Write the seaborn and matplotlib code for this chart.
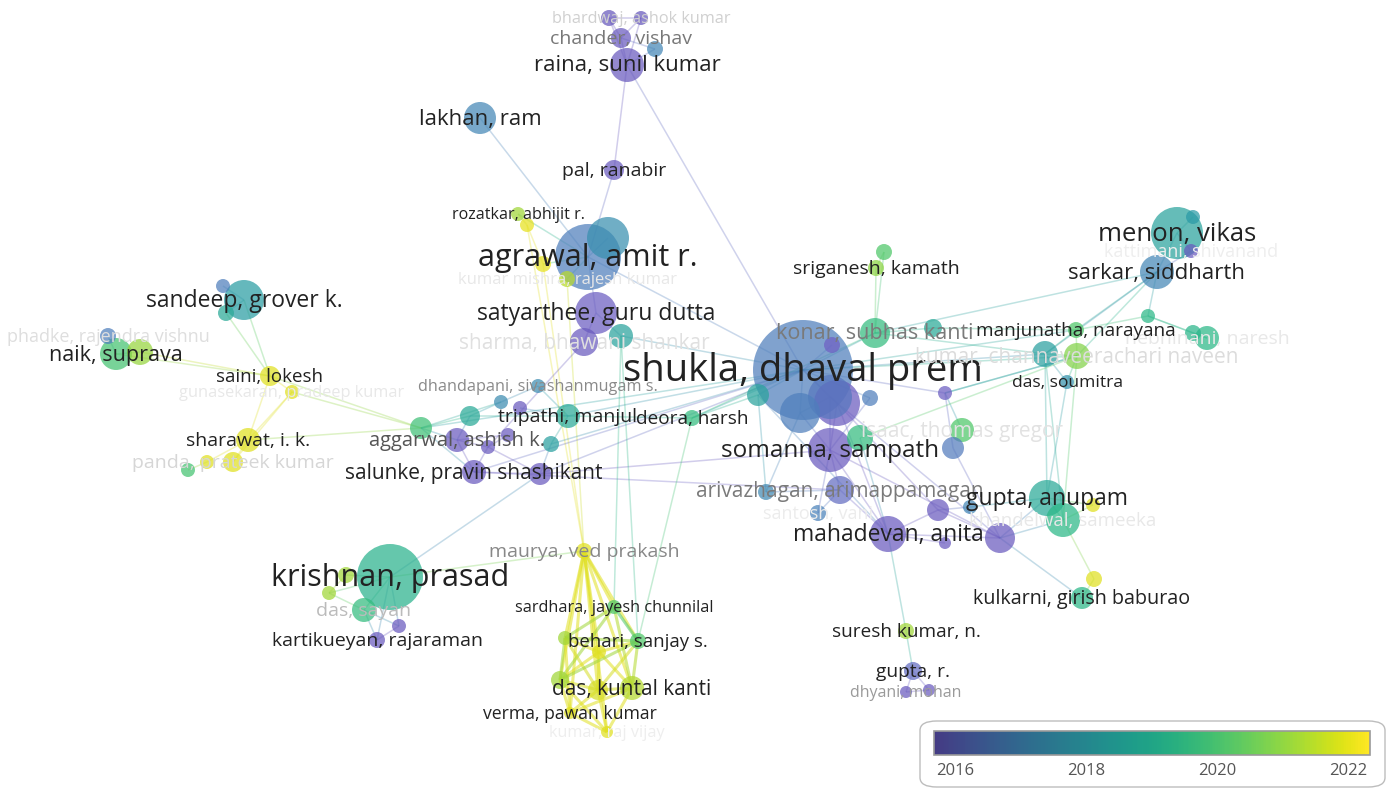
import numpy as np
import pandas as pd
import matplotlib
matplotlib.use("Agg")
import matplotlib.pyplot as plt
import seaborn as sns
from matplotlib.collections import LineCollection
from matplotlib.colors import LinearSegmentedColormap, ListedColormap
from matplotlib.patches import FancyBboxPatch

# ---- node data (map coordinates, weight radius, avg. publication year) ----
names = [
    "bhardwaj, ashok kumar", "", "chander, vishav", "", "raina, sunil kumar",
    "lakhan, ram", "pal, ranabir", "rozatkar, abhijit r.", "", "agrawal, amit r.",
    "", "", "kumar mishra, rajesh kumar", "satyarthee, guru dutta", "",
    "sharma, bhawani shankar", "sandeep, grover k.", "", "", "phadke, rajendra vishnu",
    "naik, suprava", "", "saini, lokesh", "gunasekaran, pradeep kumar", "sharawat, i. k.",
    "", "panda, prateek kumar", "", "", "",
    "", "dhandapani, sivashanmugam s.", "", "tripathi, manjul", "aggarwal, ashish k.",
    "", "", "", "salunke, pravin shashikant", "",
    "deora, harsh", "shukla, dhaval prem", "", "", "",
    "", "konar, subhas kanti", "", "", "",
    "", "somanna, sampath", "", "isaac, thomas gregor", "",
    "", "sriganesh, kamath", "", "arivazhagan, arimappamagan", "santosh, vani",
    "mahadevan, anita", "", "", "", "",
    "gupta, anupam", "khandelwal, sameeka", "", "", "kulkarni, girish baburao",
    "suresh kumar, n.", "gupta, r.", "dhyani, mohan", "", "menon, vikas",
    "", "kattimani, shivanand", "sarkar, siddharth", "", "",
    "nebhinani, naresh", "manjunatha, narayana", "", "kumar, channaveerachari naveen", "das, soumitra",
    "krishnan, prasad", "", "", "das, sayan", "",
    "kartikueyan, rajaraman", "maurya, ved prakash", "sardhara, jayesh chunnilal", "", "",
    "behari, sanjay s.", "", "", "das, kuntal kanti", "verma, pawan kumar",
    "kumar, raj vijay",
]
node_x = [
    641, 609, 621, 655, 627, 480, 614, 518, 527, 588,
    608, 543, 567, 596, 621, 584, 244, 223, 226, 108,
    116, 140, 270, 292, 248, 207, 233, 188, 421, 470,
    501, 538, 520, 568, 457, 508, 488, 551, 474, 540,
    692, 803, 800, 830, 837, 832, 875, 933, 758, 870,
    945, 830, 860, 962, 953, 884, 876, 766, 840, 818,
    888, 945, 938, 1000, 970, 1047, 1063, 1093, 1094, 1082,
    906, 913, 906, 929, 1177, 1193, 1191, 1157, 1148, 1193,
    1207, 1076, 1045, 1077, 1067, 390, 346, 329, 364, 399,
    377, 584, 614, 565, 599, 638, 560, 598, 632, 570,
    607,
]
node_y = [
    18, 18, 38, 49, 65, 118, 170, 214, 225, 257,
    238, 264, 279, 313, 336, 342, 300, 286, 313, 336,
    354, 352, 376, 392, 440, 462, 462, 470, 428, 416,
    402, 386, 408, 416, 440, 435, 447, 444, 472, 474,
    418, 370, 413, 397, 403, 345, 333, 328, 395, 398,
    393, 450, 438, 430, 448, 252, 268, 492, 490, 513,
    534, 543, 510, 538, 507, 498, 520, 505, 579, 598,
    631, 671, 692, 690, 233, 217, 251, 272, 316, 333,
    338, 330, 354, 356, 382, 577, 575, 593, 610, 626,
    640, 551, 607, 638, 652, 641, 680, 690, 688, 713,
    732,
]
node_r = [
    7, 8, 10, 8, 17, 16, 10, 7, 7, 33,
    21, 8, 8, 21, 12, 14, 20, 7, 8, 8,
    16, 13, 10, 7, 12, 7, 10, 7, 11, 10,
    7, 7, 7, 12, 12, 7, 7, 8, 12, 11,
    8, 50, 20, 22, 23, 8, 15, 9, 11, 8,
    7, 22, 13, 12, 11, 8, 8, 8, 14, 8,
    18, 6, 11, 15, 7, 18, 17, 7, 8, 11,
    8, 9, 6, 6, 26, 7, 7, 17, 7, 8,
    12, 8, 13, 13, 7, 33, 8, 7, 12, 7,
    8, 8, 7, 7, 7, 8, 9, 10, 12, 6,
    6,
]
node_year = [
    2016.2, 2016.2, 2016.3, 2017.6, 2016.3, 2017.6, 2016.3, 2021.0, 2022.1, 2017.3,
    2017.9, 2022.1, 2021.3, 2016.4, 2018.6, 2016.3, 2018.4, 2017.3, 2018.8, 2017.3,
    2019.8, 2020.9, 2022.0, 2022.0, 2022.0, 2022.0, 2022.0, 2019.8, 2019.7, 2018.8,
    2017.8, 2017.8, 2016.3, 2018.8, 2016.3, 2016.3, 2016.3, 2018.5, 2016.3, 2016.3,
    2019.5, 2017.3, 2017.3, 2017.1, 2016.3, 2016.5, 2019.5, 2018.8, 2018.6, 2017.3,
    2016.4, 2016.3, 2019.5, 2020.0, 2017.2, 2020.0, 2020.8, 2017.7, 2016.8, 2017.4,
    2016.3, 2016.3, 2016.3, 2016.3, 2017.6, 2018.8, 2019.3, 2022.0, 2022.0, 2019.3,
    2021.0, 2016.8, 2016.3, 2016.3, 2018.6, 2018.3, 2016.3, 2017.6, 2019.3, 2019.2,
    2019.3, 2020.0, 2018.5, 2020.7, 2018.0, 2019.1, 2021.0, 2021.0, 2019.5, 2016.3,
    2016.3, 2022.0, 2020.0, 2021.0, 2022.0, 2020.0, 2021.0, 2021.8, 2021.2, 2022.0,
    2022.0,
]
# label font size (pt) of each node label
label_size = [
    11.7, 0, 14, 0, 16, 16, 14, 11.6, 0, 22,
    0, 0, 12, 16.5, 0, 15, 16.5, 0, 0, 13,
    15.5, 0, 13.5, 11.8, 14, 0, 14, 0, 0, 0,
    0, 11.7, 0, 14, 14.5, 0, 0, 0, 15, 0,
    13.7, 27.5, 0, 0, 0, 0, 15.5, 0, 0, 0,
    0, 17.5, 0, 15, 0, 0, 14, 0, 15, 13,
    16.5, 0, 0, 0, 0, 16.5, 13.5, 0, 0, 14.2,
    13.7, 13.8, 11.5, 0, 18.5, 0, 13, 16, 0, 0,
    14, 13.7, 0, 15, 12.6, 22, 0, 0, 14, 0,
    14, 14, 11.7, 0, 0, 13.4, 0, 0, 15, 12.7,
    11.7,
]
label_grey = {
    "bhardwaj, ashok kumar": "#d0d0d0", "chander, vishav": "#777777",
    "kumar mishra, rajesh kumar": "#e8e8e8", "sharma, bhawani shankar": "#e0e0e0",
    "phadke, rajendra vishnu": "#dedede", "gunasekaran, pradeep kumar": "#e8e8e8",
    "panda, prateek kumar": "#d6d6d6", "dhandapani, sivashanmugam s.": "#8a8a8a",
    "aggarwal, ashish k.": "#555555", "konar, subhas kanti": "#7a7a7a",
    "isaac, thomas gregor": "#e2e2e2", "arivazhagan, arimappamagan": "#7a7a7a",
    "santosh, vani": "#ececec", "khandelwal, sameeka": "#e8e8e8",
    "dhyani, mohan": "#9a9a9a", "kattimani, shivanand": "#eeeeee",
    "nebhinani, naresh": "#e8e8e8", "kumar, channaveerachari naveen": "#dcdcdc",
    "das, sayan": "#bbbbbb", "maurya, ved prakash": "#888888",
    "kumar, raj vijay": "#eeeeee",
}

# ---- co-authorship links (node index pairs) ----
links = [
    (0, 1), (0, 2), (1, 2), (2, 4), (3, 4), (1, 4), (0, 4), (2, 3), (4, 6), (6, 9),
    (4, 41), (5, 9), (9, 41), (9, 13), (9, 10), (9, 12), (9, 11), (7, 8), (8, 11), (7, 9),
    (8, 91), (11, 91), (12, 91), (13, 15), (13, 14), (15, 36), (14, 41),
    (16, 22), (18, 22), (20, 22), (21, 22), (22, 23), (22, 24), (23, 24), (24, 25), (24, 26),
    (25, 27), (26, 23), (22, 28), (23, 28), (24, 28), (19, 20), (20, 21), (16, 17), (16, 18),
    (28, 29), (28, 34), (28, 30), (28, 38), (29, 30), (29, 33), (29, 34), (30, 31), (31, 33),
    (32, 33), (34, 35), (34, 36), (34, 38), (35, 36), (36, 38), (36, 39), (37, 33), (37, 39),
    (38, 39), (33, 40), (33, 41), (37, 41), (38, 41), (39, 41), (39, 51), (38, 58), (28, 41),
    (40, 41), (40, 46), (40, 48), (40, 95), (14, 92), (14, 95),
    (41, 42), (41, 43), (41, 44), (42, 43), (43, 44), (41, 45), (41, 46), (41, 48), (41, 49),
    (46, 55), (46, 56), (55, 56), (46, 47), (41, 81), (46, 82), (41, 83), (47, 81),
    (48, 57), (57, 58), (58, 59), (58, 60), (51, 60), (51, 58), (51, 59), (52, 60), (44, 60),
    (44, 51), (43, 51), (42, 51), (50, 53), (50, 54), (50, 83), (41, 50), (54, 63), (49, 51),
    (60, 62), (60, 61), (60, 63), (62, 63), (62, 64), (64, 65), (63, 65), (63, 66), (65, 66),
    (66, 67), (65, 67), (66, 68), (68, 69), (63, 69), (60, 70), (70, 71), (71, 72), (71, 73),
    (72, 73), (43, 63), (44, 62), (42, 57), (51, 63), (48, 60),
    (74, 75), (74, 76), (74, 77), (76, 77), (77, 78), (77, 81), (77, 82), (77, 83), (78, 79),
    (78, 80), (79, 80), (78, 81), (81, 82), (81, 83), (82, 83), (82, 84), (83, 84), (82, 65),
    (84, 65), (83, 66), (82, 66), (46, 77), (41, 82), (52, 83), (50, 83),
    (85, 86), (85, 87), (86, 87), (85, 88), (88, 89), (88, 90), (89, 90), (85, 89), (85, 90),
    (87, 88), (85, 91), (85, 39),
    (91, 92), (91, 93), (91, 94), (91, 95), (91, 96), (91, 97), (91, 98), (91, 99), (91, 100),
    (92, 93), (92, 95), (92, 96), (92, 98), (93, 94), (93, 95), (93, 96), (93, 97), (93, 99),
    (94, 95), (94, 96), (94, 97), (94, 98), (95, 96), (95, 97), (95, 98), (96, 97), (96, 99),
    (97, 98), (97, 99), (97, 100), (98, 99), (98, 100), (99, 100), (96, 100),
]

year_min, year_max = 2015.68, 2022.34

# node colour ramp (year -> colour), a lighter viridis-like ramp as rendered on the map
ramp_years = [2015.68, 2016.5, 2017.3, 2018.3, 2019.3, 2020.3, 2021.2, 2022.34]
ramp_cols = ["#5a48ae", "#6e60c4", "#4f7fbc", "#2a9aa6", "#2ab887", "#5dcd5c", "#b2d92e", "#f4e31c"]

df = pd.DataFrame({"name": names, "x": node_x, "y": node_y, "r": node_r,
                   "year": node_year, "fs": label_size})
# marker area in pt^2 (figure at 100 dpi: 1 px = 0.72 pt)
df["area"] = (2 * df["r"] * 0.72) ** 2

sns.set_style("white")
plt.rcParams["font.family"] = ["Open Sans", "DejaVu Sans"]

fig = plt.figure(figsize=(13.92, 7.9), dpi=100)
ax = fig.add_axes([0, 0, 1, 1])

norm = plt.Normalize(year_min, year_max)
node_cmap = LinearSegmentedColormap.from_list(
    "nodes", list(zip([(y - year_min) / (year_max - year_min) for y in ramp_years], ramp_cols)))

# ---- links ----
segs, cols, widths = [], [], []
for a, b in links:
    segs.append([(node_x[a], node_y[a]), (node_x[b], node_y[b])])
    hot = a >= 91 and b >= 91
    yr = max(node_year[a], node_year[b]) if hot else (node_year[a] + node_year[b]) / 2
    c = list(node_cmap(norm(yr)))
    c[3] = 0.55 if hot else 0.3
    cols.append(c)
    widths.append(2.2 if hot else 1.1)
ax.add_collection(LineCollection(segs, colors=cols, linewidths=widths, zorder=1))

# ---- nodes ----
order = df.sort_values("r", ascending=False)
amin, amax = df["area"].min(), df["area"].max()
sns.scatterplot(data=order, x="x", y="y", hue="year", palette=node_cmap,
                hue_norm=(year_min, year_max), size="area", sizes=(amin, amax),
                size_norm=(amin, amax), alpha=0.72, linewidth=0, legend=False,
                ax=ax, zorder=2)

# ---- labels ----
for _, row in df.iterrows():
    if not row["name"]:
        continue
    col = label_grey.get(row["name"], "#222222")
    ax.text(row["x"], row["y"] + 1, row["name"], fontsize=row["fs"], color=col,
            ha="center", va="center", zorder=3)

ax.set_xlim(0, 1392)
ax.set_ylim(790, 0)
ax.axis("off")

# ---- colour legend box ----
box = FancyBboxPatch((920 / 1392, 3 / 790), 465 / 1392, 66 / 790,
                     boxstyle="round,pad=0,rounding_size=0.012",
                     transform=fig.transFigure, facecolor="white",
                     edgecolor="#bdbdbd", linewidth=1.0, zorder=-1)
fig.patches.append(box)

vir = sns.color_palette("viridis", as_cmap=True)
bar_cmap = ListedColormap(vir(np.linspace(0.17, 1.0, 256)))
cax = fig.add_axes([934 / 1392, 35 / 790, 436 / 1392, 24 / 790])
cax.set_zorder(10)
sm = plt.cm.ScalarMappable(norm=norm, cmap=bar_cmap)
cb = fig.colorbar(sm, cax=cax, orientation="horizontal")
cb.set_ticks([2016, 2018, 2020, 2022])
cb.outline.set_edgecolor("#999999")
cb.outline.set_linewidth(1.2)
cax.tick_params(axis="x", direction="in", length=9, width=1.2, color="#777777",
                labelsize=12, labelcolor="#555555", pad=6)

fig.savefig("out.png", dpi=100)
